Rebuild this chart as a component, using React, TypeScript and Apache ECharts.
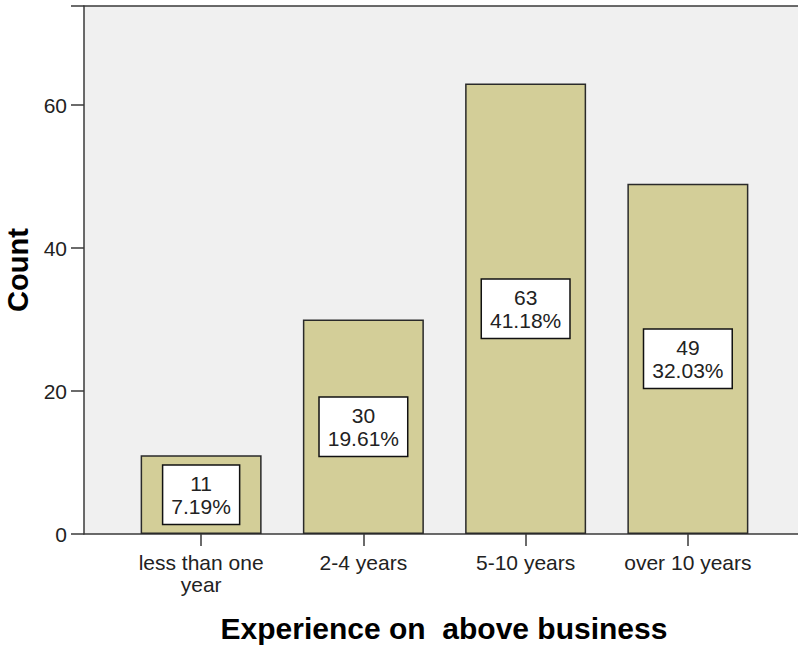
import React, { useEffect, useRef } from "react";
import * as echarts from "echarts";

const categories = ["less than one\nyear", "2-4 years", "5-10 years", "over 10 years"];
const counts = [11, 30, 63, 49];
const percents = ["7.19%", "19.61%", "41.18%", "32.03%"];
const yTicks = [0, 20, 40, 60];

const Y_MAX = 73.85;
const TOP = 6;
const BOTTOM = 113;
const FONT = "'Liberation Sans', Arial, sans-serif";

export default function App() {
  const ref = useRef<HTMLDivElement>(null);
  useEffect(() => {
    if (!ref.current) return;
    const chart = echarts.init(ref.current, null, { renderer: "svg" });
    chart.setOption({
      animation: false,
      backgroundColor: "#ffffff",
      textStyle: { fontFamily: FONT },
      grid: [
        { left: 84, right: -6, top: TOP, bottom: BOTTOM, show: true, backgroundColor: "#f0f0f0", borderWidth: 0, containLabel: false, outerBoundsMode: "none" },
        { left: 120, width: 649, top: TOP, bottom: BOTTOM, containLabel: false, outerBoundsMode: "none" },
      ],
      xAxis: [
        {
          type: "value", gridIndex: 0, min: 0, max: 1, position: "bottom",
          axisLine: { show: true, onZero: false, lineStyle: { color: "#3a3a3a", width: 1.5 } },
          axisTick: { show: false }, axisLabel: { show: false }, splitLine: { show: false },
          name: "Experience on  above business", nameLocation: "middle", nameGap: 79,
          nameTextStyle: { fontFamily: FONT, fontSize: 30, fontWeight: "bold", color: "#000" },
        },
        {
          type: "value", gridIndex: 0, min: 0, max: 1, position: "top",
          axisLine: { show: true, onZero: false, lineStyle: { color: "#3a3a3a", width: 1.5 } },
          axisTick: { show: false }, axisLabel: { show: false }, splitLine: { show: false },
        },
        {
          type: "category", gridIndex: 1, data: categories, position: "bottom",
          axisLine: { show: false },
          axisTick: { show: true, interval: 0, alignWithLabel: true, length: 12, lineStyle: { color: "#3a3a3a", width: 1.5 } },
          axisLabel: { interval: 0, hideOverlap: false, margin: 17, fontFamily: FONT, fontSize: 21, color: "#222", lineHeight: 22 },
        },
      ],
      yAxis: [
        {
          type: "value", gridIndex: 0, min: 0, max: Y_MAX, interval: 20,
          axisLine: { show: true, lineStyle: { color: "#3a3a3a", width: 1.5 } },
          axisTick: { show: true, length: 13, lineStyle: { color: "#3a3a3a", width: 1.5 } },
          axisLabel: {
            margin: 17, fontFamily: FONT, fontSize: 21, color: "#222",
            formatter: (v: number) => (yTicks.includes(v) ? String(v) : ""),
          },
          splitLine: { show: false },
          name: "Count", nameLocation: "middle", nameGap: 45,
          nameTextStyle: { fontFamily: FONT, fontSize: 29, fontWeight: "bold", color: "#000" },
        },
        {
          type: "value", gridIndex: 1, min: 0, max: Y_MAX, show: false,
        },
      ],
      series: [
        {
          type: "bar", xAxisIndex: 2, yAxisIndex: 1, barWidth: 121,
          data: counts,
          itemStyle: { color: "#d3ce98", borderColor: "#2a2a2a", borderWidth: 1.5 },
          label: {
            show: true, position: "inside",
            formatter: (p: any) => `${counts[p.dataIndex]}\n${percents[p.dataIndex]}`,
            fontFamily: FONT, fontSize: 21, color: "#222", lineHeight: 23, align: "center",
            backgroundColor: "#ffffff", borderColor: "#111", borderWidth: 1.5,
            padding: [6, 8, 6, 8],
          },
        },
      ],
    });
    return () => chart.dispose();
  }, []);
  return <div ref={ref} style={{ position: "fixed", left: 0, top: 0, width: 798, height: 647 }} />;
}
